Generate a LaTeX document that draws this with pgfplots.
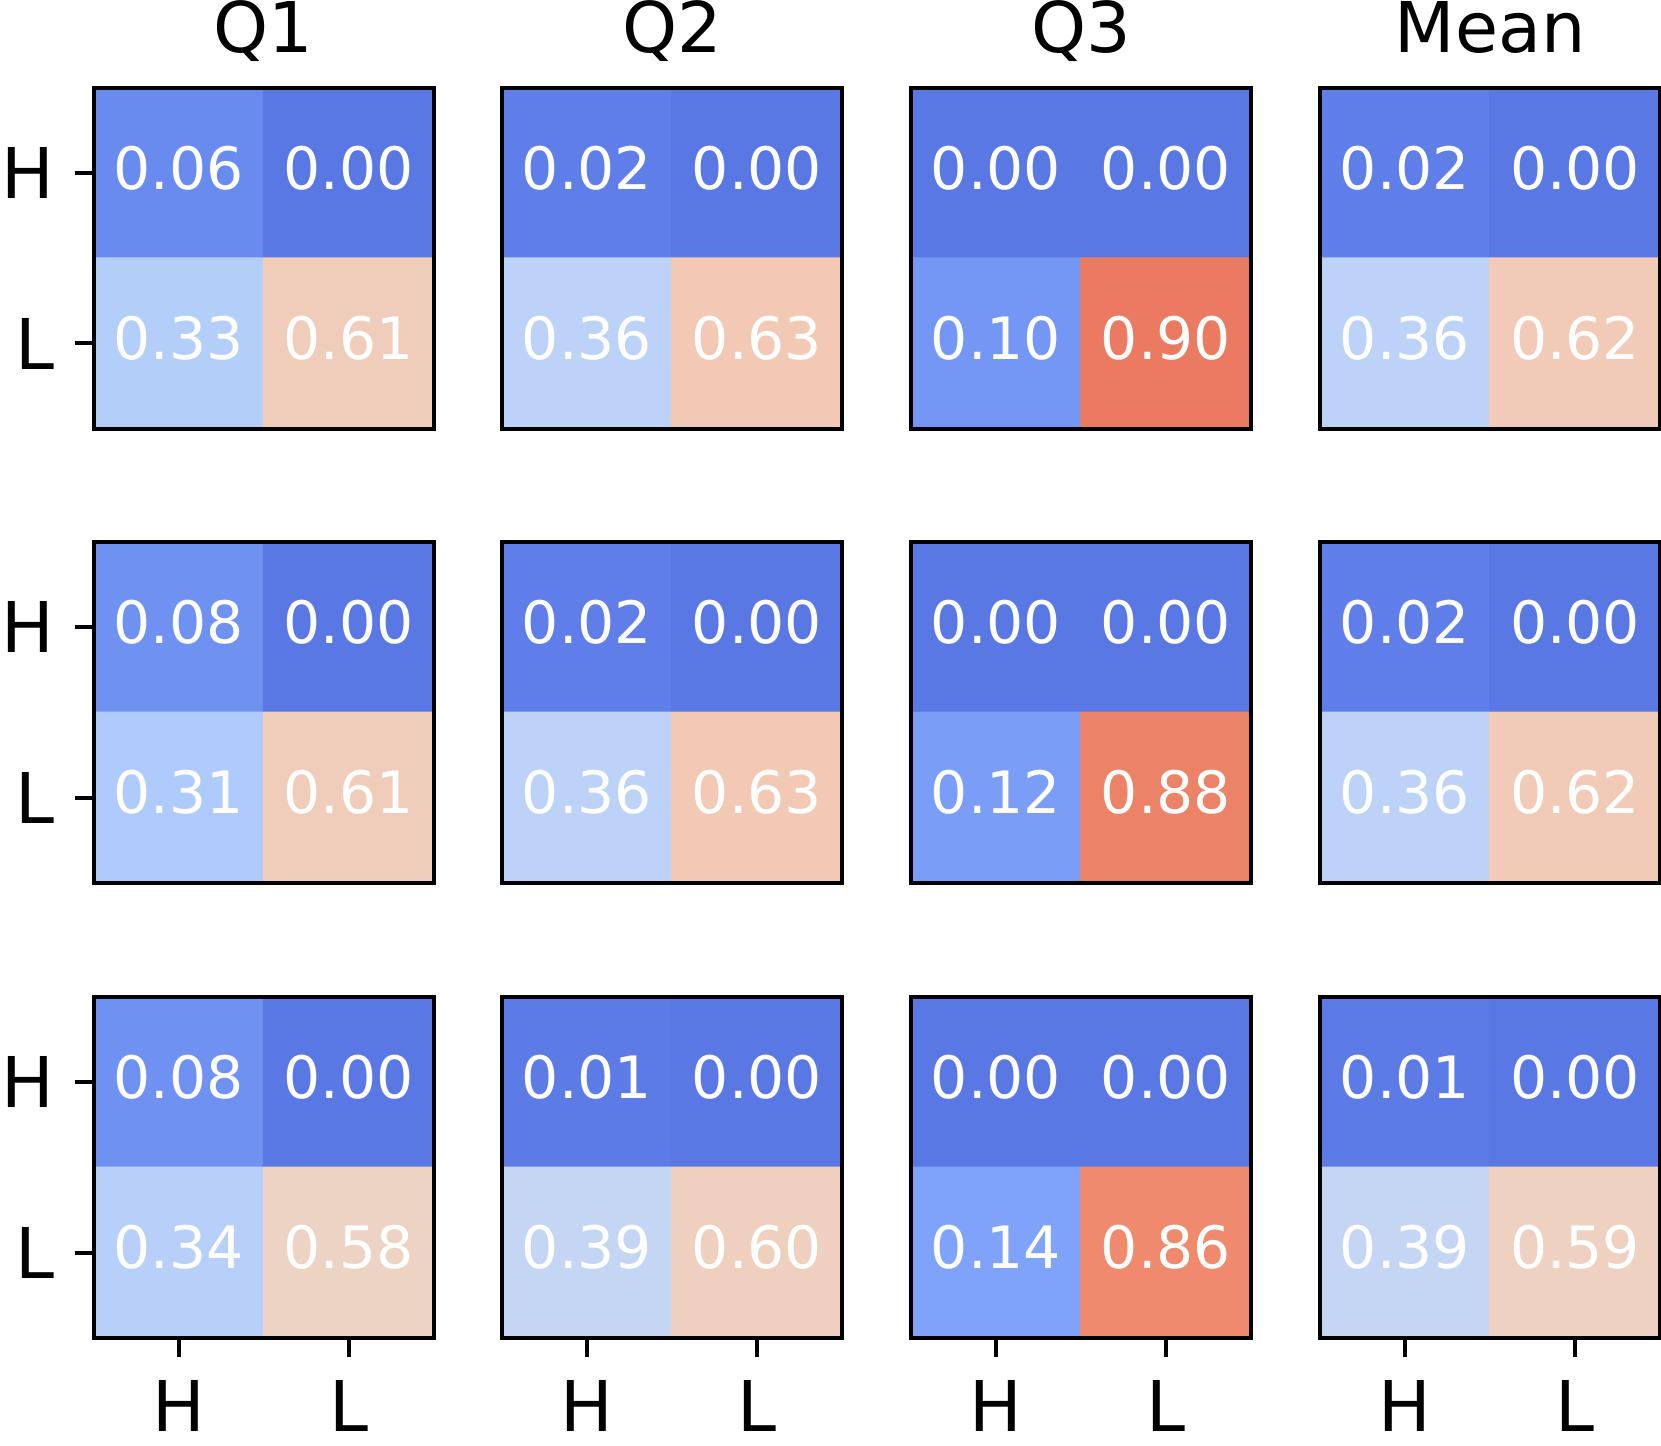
\documentclass[border=0pt]{standalone}
\usepackage{fontspec}
\setmainfont{DejaVu Sans}
\usepackage{pgfplots}
\pgfplotsset{compat=1.18}
\pgfplotsset{
  /pgf/number format/assume math mode=true,
  colormap={coolwarm}{
    rgb255=(59,76,192) rgb255=(68,90,204) rgb255=(77,104,215) rgb255=(87,117,225)
    rgb255=(98,130,234) rgb255=(108,142,241) rgb255=(119,154,247) rgb255=(130,165,251)
    rgb255=(141,176,254) rgb255=(152,185,255) rgb255=(163,194,255) rgb255=(174,201,253)
    rgb255=(184,208,249) rgb255=(194,213,244) rgb255=(204,217,238) rgb255=(213,219,230)
    rgb255=(221,221,221) rgb255=(229,216,209) rgb255=(236,211,197) rgb255=(241,204,185)
    rgb255=(245,196,173) rgb255=(247,187,160) rgb255=(247,177,148) rgb255=(247,166,135)
    rgb255=(244,154,123) rgb255=(241,141,111) rgb255=(236,127,99) rgb255=(229,112,88)
    rgb255=(222,96,77) rgb255=(213,80,66) rgb255=(203,62,56) rgb255=(192,40,47)
    rgb255=(180,4,38)},
  every axis title/.style={at={(0.5,1)}, anchor=base, yshift=8.7pt, inner sep=0pt,
      font=\fontsize{17.5}{21}\selectfont},
  hm/.style={
    anchor=north west,
    width=85pt, height=85.25pt, scale only axis,
    xmin=-0.5, xmax=1.5, ymin=-0.5, ymax=1.5, y dir=reverse,
    axis on top,
    axis line style={line width=1.07pt, black},
    tick align=outside, xtick pos=bottom, ytick pos=left,
    major tick length=4.75pt,
    major tick style={line width=1pt, black},
    xtick=\empty, ytick=\empty,
    xticklabels={H,L}, yticklabels={H,L},
    ticklabel style={font=\fontsize{17.5}{21}\selectfont, inner sep=0pt},
    xticklabel style={anchor=north, yshift=-5.75pt},
    yticklabel style={anchor=east, xshift=-4.9pt},
    point meta min=-0.125, point meta max=1.125,
    colormap name=coolwarm,
  },
  yt/.style={ytick={0,1}},
  xt/.style={xtick={0,1}},
}
\newcommand{\panel}[5]{%
  \begin{axis}[hm,#1]
    \addplot[matrix plot*, mesh/cols=2, point meta=explicit,
      nodes near coords={\pgfmathprintnumber[fixed,fixed zerofill,precision=2]{\pgfplotspointmeta}},
      nodes near coords style={anchor=center, text=white, inner sep=0pt, yshift=1.3pt,
        font=\fontsize{14.6}{18}\selectfont}]
      coordinates {(0,0) [#2] (1,0) [#3] (0,1) [#4] (1,1) [#5]};
  \end{axis}}
\begin{document}
\begin{tikzpicture}
\useasboundingbox (0,0) rectangle (415.25pt,-361.5pt);
% row 1
\panel{at={(23.43pt,-21.93pt)}, title={Q1}, yt}{0.06}{0.00}{0.33}{0.61}
\panel{at={(125.5pt,-21.93pt)}, title={Q2}}{0.02}{0.00}{0.36}{0.63}
\panel{at={(227.75pt,-21.93pt)}, title={Q3}}{0.00}{0.00}{0.10}{0.90}
\panel{at={(330pt,-21.93pt)}, title={Mean}}{0.02}{0.00}{0.36}{0.62}
% row 2
\panel{at={(23.43pt,-135.5pt)}, yt}{0.08}{0.00}{0.31}{0.61}
\panel{at={(125.5pt,-135.5pt)}}{0.02}{0.00}{0.36}{0.63}
\panel{at={(227.75pt,-135.5pt)}}{0.00}{0.00}{0.12}{0.88}
\panel{at={(330pt,-135.5pt)}}{0.02}{0.00}{0.36}{0.62}
% row 3
\panel{at={(23.43pt,-249.25pt)}, yt, xt}{0.08}{0.00}{0.34}{0.58}
\panel{at={(125.5pt,-249.25pt)}, xt}{0.01}{0.00}{0.39}{0.60}
\panel{at={(227.75pt,-249.25pt)}, xt}{0.00}{0.00}{0.14}{0.86}
\panel{at={(330pt,-249.25pt)}, xt}{0.01}{0.00}{0.39}{0.59}
\end{tikzpicture}
\end{document}
